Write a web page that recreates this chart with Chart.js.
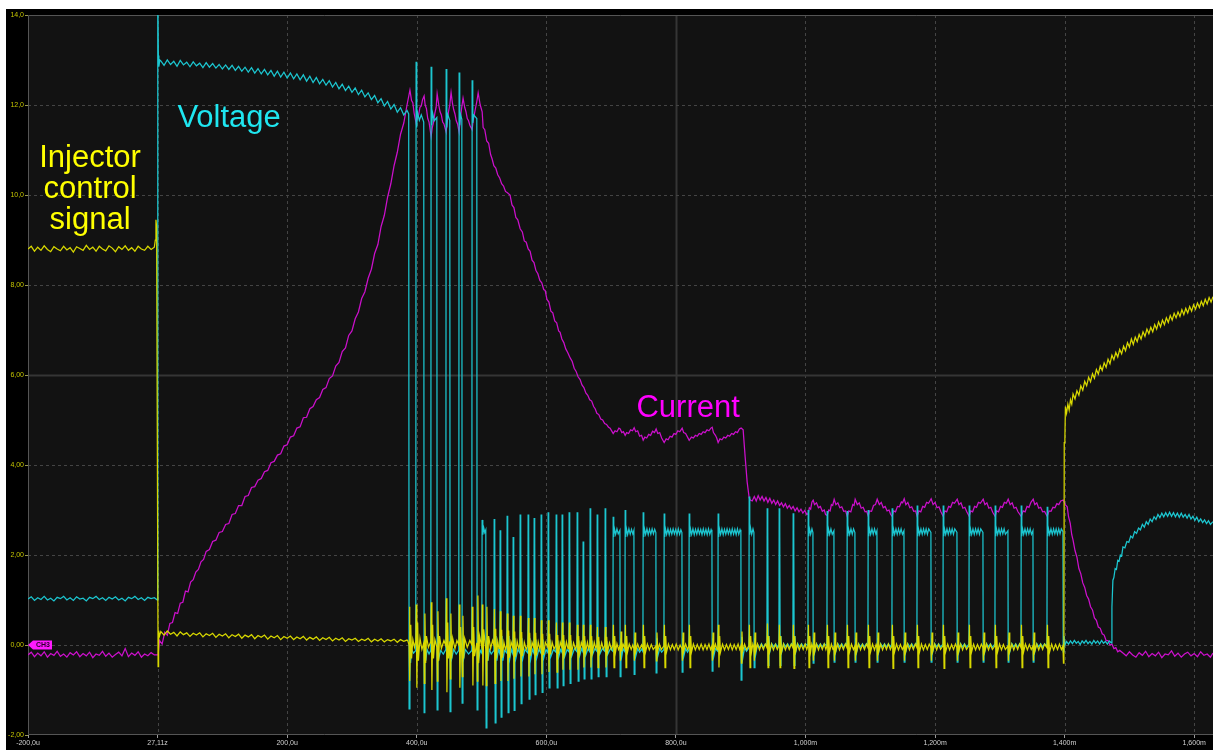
<!DOCTYPE html>
<html><head><meta charset="utf-8">
<script src="https://cdn.jsdelivr.net/npm/chart.js@4/dist/chart.umd.min.js"></script>
<style>
html,body{margin:0;padding:0;background:#fff;width:1213px;height:750px;overflow:hidden}
#wrap{position:absolute;left:6px;top:9px;width:1207px;height:741px;background:#000}
</style></head><body>
<div id="wrap"><canvas id="c" width="1207" height="741"></canvas></div>
<script>
// ---------- axis ticks ----------
const xTickValues = [-200,0,200,400,600,800,1000,1200,1400,1600];
const xTickLabels = ['-200,0u','27,11z','200,0u','400,0u','600,0u','800,0u','1,000m','1,200m','1,400m','1,600m'];
const yTickValues = [-2,0,2,4,6,8,10,12,14];
const yTickLabels = ['-2,00','0,00','2,00','4,00','6,00','8,00','10,0','12,0','14,0'];
const centerTime = 800, centerLevel = 6;

// ---------- annotations ----------
const noteTexts  = ['Voltage','Injector','control','signal','Current'];
const noteTimes  = [110.4,-104.2,-104.2,-104.2,818.9];
const noteValues = [11.51,10.62,9.93,9.24,5.07];
const noteColors = ['#1fe6f0','#ffff00','#ffff00','#ffff00','#ff00ff'];
const markerText = 'CH3';

// ---------- Injector control signal (yellow), [time us, volts] ----------
const injPre = [[-200,8.80],[-195,8.86],[-190,8.75],[-185,8.84],[-180,8.77],[-175,8.87],[-170,8.79],[-165,8.74],[-160,8.85],[-155,8.80],[-150,8.76],[-145,8.86],[-140,8.78],[-135,8.83],[-130,8.73],[-125,8.85],[-120,8.81],[-115,8.77],[-110,8.88],[-105,8.79],[-100,8.84],[-95,8.75],[-90,8.86],[-85,8.80],[-80,8.76],[-75,8.87],[-70,8.82],[-65,8.74],[-60,8.85],[-55,8.79],[-50,8.87],[-45,8.77],[-40,8.83],[-35,8.75],[-30,8.86],[-25,8.80],[-20,8.77],[-15,8.86],[-10,8.79],[-5,8.84]];
const injTrigger = [[-3.5,9.0],[-2.5,9.45],[-1.5,9.3],[0.2,2.0],[0.8,-0.48],[1.6,0.32],[3,0.2]];
const injSettle = [[5,0.30],[10,0.22],[15,0.31],[20,0.24],[25,0.28],[30,0.20],[35,0.29],[40,0.23],[45,0.27],[50,0.19],[55,0.26],[60,0.22],[65,0.27],[70,0.18],[75,0.25],[80,0.21],[85,0.26],[90,0.17],[95,0.24],[100,0.20],[105,0.25],[110,0.16],[115,0.23],[120,0.19],[125,0.24],[130,0.15],[135,0.22],[140,0.18],[145,0.23],[150,0.14],[155,0.21],[160,0.17],[165,0.22],[170,0.13],[175,0.20],[180,0.16],[185,0.21],[190,0.12],[195,0.19],[200,0.15],[205,0.20],[210,0.12],[215,0.18],[220,0.14],[225,0.19],[230,0.11],[235,0.17],[240,0.13],[245,0.18],[250,0.10],[255,0.16],[260,0.12],[265,0.17],[270,0.09],[275,0.15],[280,0.11],[285,0.16],[290,0.08],[295,0.14],[300,0.11],[305,0.15],[310,0.08],[315,0.13],[320,0.10],[325,0.15],[330,0.07],[335,0.13],[340,0.09],[345,0.14],[350,0.07],[355,0.12],[360,0.09],[365,0.13],[370,0.06],[375,0.12],[380,0.08],[385,0.11]];
const injPeak = [[386,0.1],[388.2,0.0],[388.7,0.85],[389.6,-0.8],[390.8,0.45],[392,-0.3],[394,0.12],[396.5,-0.05],[398.6,0.1],
[399.3,0.9],[400.2,-0.95],[401.4,0.5],[402.6,-0.35],[405,0.15],[408,-0.1],[411,0.05],
[411.7,-0.85],[412.6,0.7],[413.8,-0.4],[415,0.2],[418,-0.05],[421.8,0.08],
[422.5,0.95],[423.4,-1.0],[424.6,0.45],[425.8,-0.3],[428,0.12],[431.1,-0.05],
[431.8,-0.8],[432.7,0.75],[433.9,-0.35],[435.2,0.2],[438,-0.08],[442,0.1],[445,-0.02],
[445.7,1.04],[446.6,-1.05],[447.8,0.5],[449,-0.3],[451.1,0.08],
[451.8,-0.75],[452.7,0.7],[453.9,-0.3],[455.5,0.15],[459,-0.08],[462,0.1],[465,0.0],
[465.7,0.9],[466.6,-0.95],[467.8,0.4],[469.5,-0.2],
[470.4,-0.7],[471.3,0.65],[472.5,-0.3],[474,0.15],[478,-0.05],[482,0.1],[485.1,0.0],
[485.8,0.85],[486.7,-0.9],[487.9,0.4],[489.2,-0.25],[492.8,0.05],
[493.5,-0.8],[494.4,1.1],[495.6,-0.4],[497,0.2],[500.5,-0.05],
[501.2,0.9],[502.1,-0.9],[503.3,0.35],[506.7,-0.1],
[507.4,-0.9],[508.3,0.85],[509.5,-0.35],[511,0.2],[514,-0.08],[517,0.1]];
const injHoldEarly = [[519.1,0.0],[519.9,0.8],[520.8,-0.85],[521.9,0.36],[523.1,-0.3],[525,0.08],[527,-0.08],
[528.3,0.02],[529.1,0.75],[530,-0.8],[531.1,0.34],[532.3,-0.28],[534.5,0.06],[537,-0.1],
[539.1,0.0],[539.9,0.7],[540.8,-0.8],[541.9,0.32],[543.1,-0.28],[545.5,0.07],[548.4,-0.06],
[549.2,0.65],[550.1,-0.75],[551.2,0.3],[552.4,-0.26],[555,0.08],[557.5,-0.08],[559.2,0.02],
[560,0.65],[560.9,-0.7],[562,0.29],[563.2,-0.25],[566,0.06],[569,-0.1],[571.5,0.0],
[572.3,0.6],[573.2,-0.7],[574.3,0.27],[575.5,-0.24],[578,0.06],[580.8,-0.06],
[581.6,0.6],[582.5,-0.65],[583.6,0.27],[584.8,-0.23],[587.5,0.07],[590,-0.09],[591.6,0.0],
[592.4,0.55],[593.3,-0.65],[594.4,0.25],[595.6,-0.22],[598.5,0.06],[602.4,-0.05],
[603.2,0.55],[604.1,-0.6],[605.2,0.25],[606.4,-0.21],[609,0.06],[612,-0.09],[614.8,0.0],
[615.6,0.5],[616.5,-0.6],[617.6,0.22],[618.8,-0.2],[621.5,0.06],[624,-0.05],
[624.8,0.5],[625.7,-0.55],[626.8,0.22],[628,-0.19],[631,0.07],[633.5,-0.08],[634.8,0.0],
[635.6,0.5],[636.5,-0.55],[637.6,0.22],[638.8,-0.19],[642,0.05],[645,-0.09],[647.2,0.0],
[648,0.45],[648.9,-0.55],[650,0.2],[651.2,-0.18],[654,0.06],[656.4,-0.05],
[657.2,0.45],[658.1,-0.5],[659.2,0.2],[660.4,-0.17],[663.5,0.06],[665.5,-0.09],[667.2,0.0],
[668,0.45],[668.9,-0.5],[670,0.2],[671.2,-0.17],[674,0.06],[676.5,-0.08],[678.1,0.0],
[678.9,0.4],[679.8,-0.5],[680.9,0.18],[682.1,-0.16],[685.5,0.05],[688,-0.09],[690.4,0.0],
[691.2,0.4],[692.1,-0.5],[693.2,0.18],[694.4,-0.16],[697.5,0.05],[700.5,-0.09],[702.8,0.0]];
const injHoldMid = [[703.6,0.45],[704.5,-0.5],[705.6,0.2],[706.8,-0.16],[709,0.03],[711.5,-0.1],[713.6,-0.02],
[714.4,-0.35],[715.3,0.3],[716.4,-0.14],[718.5,0.02],[721.3,-0.08],
[722.1,0.45],[723,-0.5],[724.1,0.2],[725.3,-0.16],[728,0.02],[731,-0.1],[733.5,0.0],[735.2,-0.08],
[736,-0.35],[736.9,0.28],[738,-0.14],[741,0.02],[744,-0.1],[747,0.0],[749.1,-0.08],
[749.9,0.45],[750.8,-0.5],[751.9,0.2],[753.1,-0.16],[756,0.02],[759,-0.11],[762,0.01],[765,-0.1],[769.1,-0.02],
[769.9,-0.35],[770.8,0.28],[771.9,-0.14],[774.5,0.02],[777.5,-0.1],[781.5,-0.02],
[782.3,0.45],[783.2,-0.5],[784.3,0.2],[785.5,-0.16],[788.5,0.02],[791.5,-0.11],[794.5,0.01],[797.5,-0.1],[800.5,0.02],[803.5,-0.11],[806.5,0.0],[809.3,-0.08],
[810.1,-0.35],[811,0.28],[812.1,-0.14],[815,0.02],[818,-0.1],[820.1,-0.02],
[820.9,0.45],[821.8,-0.5],[822.9,0.2],[824.1,-0.16],[827,0.02],[830,-0.11],[833,0.01],[836,-0.1],[839,0.02],[842,-0.11],[845,0.01],[848,-0.1],[851,0.02],[853.5,-0.1],[855.6,-0.02],
[856.4,-0.35],[857.3,0.28],[858.4,-0.14],[861,0.02],[863.5,-0.1],[864.8,-0.02],
[865.6,0.45],[866.5,-0.5],[867.6,0.2],[868.8,-0.16],[872,0.02],[875,-0.11],[878,0.01],[881,-0.1],[884,0.02],[887,-0.11],[890,0.01],[893,-0.1],[896,0.02],[898.5,-0.1],[900.3,-0.02],
[901.1,-0.4],[902,0.3],[903.1,-0.14],[906,0.02],[909,-0.1],[912.7,-0.02],
[913.5,0.45],[914.4,-0.5],[915.5,0.2],[916.7,-0.16],[918.8,0.02],[920.4,-0.06],
[921.2,-0.35],[922.1,0.28],[923.2,-0.14],[926,0.02],[929,-0.11],[932,0.01],[935,-0.1],[938,0.02],[940.5,-0.06]];
const injHoldLate = [[941.3,0.48],[942.2,-0.5],[943.3,0.2],[944.5,-0.16],[947.5,0.02],[950.5,-0.11],[953.5,0.01],[956.5,-0.1],[959,-0.02],
[959.8,0.45],[960.7,-0.5],[961.8,0.2],[963,-0.16],[966,0.02],[969,-0.11],[972,0.01],[975,-0.1],[978,0.02],[980.6,-0.06],
[981.4,0.45],[982.3,-0.52],[983.4,0.2],[984.6,-0.16],[987.5,0.02],[990.5,-0.11],[993.5,0.01],[996.5,-0.1],[999.5,0.02],[1002,-0.1],[1003.8,-0.02],
[1004.6,0.45],[1005.5,-0.5],[1006.6,0.2],[1007.8,-0.16],[1009.8,0.02],[1011.5,-0.06],
[1012.3,-0.35],[1013.2,0.28],[1014.3,-0.14],[1017,0.02],[1020,-0.11],[1023,0.01],[1026,-0.1],[1029,0.02],[1031.5,-0.1],[1033.1,-0.02],
[1033.9,0.45],[1034.8,-0.5],[1035.9,0.2],[1037.1,-0.16],[1040,0.02],[1042.5,-0.1],[1043.9,-0.02],
[1044.7,-0.35],[1045.6,0.28],[1046.7,-0.14],[1049.5,0.02],[1052.5,-0.11],[1055.5,0.01],[1058.5,-0.1],[1061.5,0.02],[1064,-0.06],
[1064.8,0.45],[1065.7,-0.5],[1066.8,0.2],[1068,-0.16],[1071,0.02],[1074,-0.1],[1076.3,-0.02],
[1077.1,-0.35],[1078,0.28],[1079.1,-0.14],[1082,0.02],[1085,-0.11],[1088,0.01],[1091,-0.1],[1094,0.02],[1096.4,-0.06],
[1097.2,0.45],[1098.1,-0.5],[1099.2,0.2],[1100.4,-0.16],[1103.5,0.02],[1106.5,-0.11],[1109,0.01],[1110.3,-0.06],
[1111.1,-0.35],[1112,0.28],[1113.1,-0.14],[1116,0.02],[1119,-0.11],[1122,0.01],[1125,-0.1],[1128,0.02],[1131,-0.1],[1133.4,-0.02],
[1134.2,0.45],[1135.1,-0.52],[1136.2,0.2],[1137.4,-0.16],[1140.5,0.02],[1143.5,-0.11],[1146.5,0.01],[1149.5,-0.1],[1152,-0.02],
[1152.8,-0.35],[1153.7,0.28],[1154.8,-0.14],[1157.5,0.02],[1160.5,-0.11],[1163.5,0.01],[1166.5,-0.1],[1169.5,0.02],[1172,-0.06],
[1172.8,0.45],[1173.7,-0.5],[1174.8,0.2],[1176,-0.16],[1179,0.02],[1182,-0.11],[1185,0.01],[1188,-0.1],[1191,0.02],[1193.6,-0.06],
[1194.4,-0.35],[1195.3,0.28],[1196.4,-0.14],[1199.5,0.02],[1202.5,-0.11],[1205.5,0.01],[1208.5,-0.1],[1212.2,-0.02],
[1213,0.45],[1213.9,-0.52],[1215,0.2],[1216.2,-0.16],[1219.5,0.02],[1222.5,-0.11],[1225.5,0.01],[1228.5,-0.1],[1231.5,0.02],[1233.8,-0.06],
[1234.6,-0.35],[1235.5,0.28],[1236.6,-0.14],[1239.5,0.02],[1242.5,-0.11],[1245.5,0.01],[1248.5,-0.1],[1252.3,-0.02],
[1253.1,0.45],[1254,-0.5],[1255.1,0.2],[1256.3,-0.16],[1259.5,0.02],[1262.5,-0.11],[1265.5,0.01],[1268.5,-0.1],[1271.5,0.02],[1273.9,-0.06],
[1274.7,-0.35],[1275.6,0.28],[1276.7,-0.14],[1279.5,0.02],[1282.5,-0.11],[1285.5,0.01],[1288.5,-0.1],[1292.4,-0.02],
[1293.2,0.45],[1294.1,-0.5],[1295.2,0.2],[1296.4,-0.16],[1299.5,0.02],[1302.5,-0.11],[1305.5,0.01],[1308.5,-0.1],[1312.5,-0.02],
[1313.3,-0.35],[1314.2,0.28],[1315.3,-0.14],[1318.5,0.02],[1321.5,-0.11],[1324.5,0.01],[1327.5,-0.1],[1330.5,0.02],[1332.6,-0.06],
[1333.4,0.45],[1334.3,-0.5],[1335.4,0.2],[1336.6,-0.16],[1339.5,0.02],[1342.5,-0.11],[1345.5,0.01],[1348.5,-0.1],[1351.1,-0.02],
[1351.9,-0.35],[1352.8,0.28],[1353.9,-0.14],[1357,0.02],[1360,-0.11],[1363,0.01],[1366,-0.1],[1369,0.02],[1372.7,-0.06],
[1373.5,0.45],[1374.4,-0.5],[1375.5,0.2],[1376.7,-0.16],[1380,0.02],[1383,-0.11],[1386,0.01],[1389,-0.1],[1392,0.02],[1395,-0.1],[1397.4,-0.02]];
const injRelease = [[1398.2,-0.4],[1398.9,0.1],[1399.4,4.5],[1400.4,4.6],[1401.2,5.3],[1403,5.15],[1405,5.35],[1407,5.22],[1409,5.45],[1411,5.35],[1413,5.58],[1416,5.47],[1419,5.65],[1422,5.55],[1425,5.76],[1428,5.66],[1431,5.86],[1434,5.76],[1437,5.95],[1440,5.85],[1443,6.03],[1446,5.93],[1449,6.12],[1452,6.02],[1455,6.2],[1458,6.1],[1461,6.27],[1464,6.17],[1467,6.35],[1470,6.25],[1473,6.44],[1476,6.34],[1479,6.5],[1482,6.4],[1485,6.57],[1488,6.47],[1491,6.64],[1494,6.54],[1497,6.72],[1500,6.62],[1503,6.8],[1506,6.68],[1509,6.84],[1512,6.74],[1515,6.9],[1518,6.8],[1521,6.96],[1524,6.86],[1527,7.02],[1530,6.92],[1533,7.06],[1536,6.96],[1539,7.12],[1542,7.02],[1545,7.18],[1548,7.07],[1551,7.22],[1554,7.12],[1557,7.27],[1560,7.17],[1563,7.32],[1566,7.22],[1569,7.37],[1572,7.27],[1575,7.4],[1578,7.3],[1581,7.45],[1584,7.34],[1587,7.48],[1590,7.38],[1593,7.52],[1596,7.42],[1599,7.56],[1602,7.46],[1605,7.6],[1608,7.5],[1611,7.64],[1614,7.54],[1617,7.68],[1620,7.58],[1623,7.72],[1626,7.62],[1629,7.74]];

// ---------- Voltage (cyan) ----------
const voltPre = [[-200,1.02],[-195,1.07],[-190,0.99],[-185,1.05],[-180,1.01],[-175,1.08],[-170,1.00],[-165,1.04],[-160,0.98],[-155,1.06],[-150,1.03],[-145,1.08],[-140,1.00],[-135,1.05],[-130,0.99],[-125,1.07],[-120,1.02],[-115,1.04],[-110,0.98],[-105,1.06],[-100,1.03],[-95,1.08],[-90,1.01],[-85,1.05],[-80,0.99],[-75,1.06],[-70,1.02],[-65,1.07],[-60,1.00],[-55,1.04],[-50,0.98],[-45,1.06],[-40,1.03],[-35,1.08],[-30,1.01],[-25,1.05],[-20,0.99],[-15,1.06],[-10,1.03],[-5,1.05]];
const voltTrigger = [[-0.2,1.0],[0.3,14.6],[1.2,13.1],[2,12.85],[3.5,13.0]];
const voltHold = [[5,12.98],[10,12.88],[15,13.00],[20,12.90],[25,12.97],[30,12.86],[35,12.99],[40,12.89],[45,12.95],[50,12.85],[55,12.96],[60,12.87],[65,12.93],[70,12.83],[75,12.94],[80,12.84],[85,12.92],[90,12.82],[95,12.90],[100,12.80],[105,12.89],[110,12.79],[115,12.88],[120,12.77],[125,12.86],[130,12.75],[135,12.84],[140,12.73],[145,12.83],[150,12.71],[155,12.81],[160,12.69],[165,12.79],[170,12.67],[175,12.77],[180,12.64],[185,12.75],[190,12.62],[195,12.73],[200,12.60],[205,12.71],[210,12.58],[215,12.69],[220,12.56],[225,12.67],[230,12.53],[235,12.64],[240,12.50],[245,12.61],[250,12.47],[255,12.57],[260,12.44],[265,12.54],[270,12.40],[275,12.50],[280,12.36],[285,12.46],[290,12.32],[295,12.42],[300,12.28],[305,12.38],[310,12.23],[315,12.33],[320,12.18],[325,12.27],[330,12.12],[335,12.21],[340,12.05],[345,12.14],[350,11.98],[355,12.08],[360,11.91],[365,12.01],[370,11.84],[375,11.94],[380,11.78],[385,11.88]];
const voltPeak = [[387.6,11.8],[388.2,-1.42],[389.5,0.3],[390.5,-0.4],[392,-0.1],[395,-0.18],[398.5,-0.12],
[399.0,12.96],[400,11.5],[401,11.85],[404,11.66],[407,11.78],[410.8,11.62],
[411.4,-1.5],[412.5,0.2],[414,-0.35],[416,-0.1],[419,-0.2],[421.7,-0.12],
[422.2,12.85],[423.2,11.55],[424.5,11.82],[427,11.65],[431,11.72],
[431.5,-1.44],[432.7,0.25],[434,-0.3],[437,-0.12],[441,-0.2],[444.9,-0.1],
[445.4,12.8],[446.4,11.5],[447.5,11.8],[451,11.66],
[451.5,-1.48],[452.7,0.2],[454,-0.3],[457,-0.1],[461,-0.2],[464.9,-0.12],
[465.4,12.72],[466.4,11.55],[467.5,11.8],[469.6,11.68],
[470.1,-1.29],[471.3,0.15],[472.5,-0.3],[475,-0.1],[480,-0.2],[485,-0.12],
[485.5,12.55],[486.5,11.6],[488,11.78],[492.7,11.7],
[493.2,-1.44],[494.4,0.1],[496,-0.3],[498,-0.12],[500.4,-0.18],
[500.9,2.78],[502,2.45],[503.5,2.6],[505,2.5],[506.6,2.56],
[507.1,-1.84],[508.3,0.1],[510,-0.35],[512,-0.1],[515,-0.2],[519,-0.12]];
const voltHoldEarly = [[519.1,-0.15],[519.5,2.80],[520.4,2.4],[521.1,-1.73],[522.3,0.2],[523.7,-0.35],[526,-0.1],[528.3,-0.2],
[528.7,2.55],[529.6,2.2],[530.3,-1.6],[531.5,0.2],[532.9,-0.35],[535.5,-0.12],[539.1,-0.18],
[539.5,2.87],[540.4,2.45],[541.1,-1.5],[542.3,0.2],[543.7,-0.3],[546,-0.1],[548.4,-0.2],
[548.8,2.4],[549.7,2.1],[550.4,-1.45],[551.6,0.15],[553,-0.3],[556,-0.1],[559.2,-0.18],
[559.6,2.9],[560.5,2.5],[561.2,-1.3],[562.4,0.15],[563.8,-0.3],[567,-0.1],[571.5,-0.18],
[571.9,2.9],[572.8,2.5],[573.5,-1.2],[574.7,0.15],[576.1,-0.3],[578.5,-0.1],[580.8,-0.18],
[581.2,2.82],[582.1,2.4],[582.8,-1.1],[584,0.12],[585.4,-0.28],[588.5,-0.1],[591.6,-0.18],
[592,2.9],[592.9,2.45],[593.6,-1.05],[594.8,0.12],[596.2,-0.28],[599.5,-0.1],[602.4,-0.17],
[602.8,2.95],[603.7,2.5],[604.4,-0.95],[605.6,0.12],[607,-0.26],[611,-0.1],[614.8,-0.16],
[615.2,2.9],[616.1,2.45],[616.8,-0.95],[618,0.1],[619.4,-0.25],[622,-0.1],[624,-0.16],
[624.4,2.9],[625.3,2.45],[626,-0.9],[627.2,0.1],[628.6,-0.25],[632,-0.1],[634.8,-0.15],
[635.2,2.95],[636.1,2.5],[636.8,-0.85],[638,0.1],[639.4,-0.24],[643.5,-0.08],[647.2,-0.15],
[647.6,2.95],[648.5,2.5],[649.2,-0.8],[650.4,0.1],[651.8,-0.22],[654.5,-0.08],[656.4,-0.15],
[656.8,2.3],[657.7,1.9],[658.4,-0.75],[659.6,0.1],[661,-0.22],[664.5,-0.08],[667.2,-0.15],
[667.6,3.04],[668.5,2.55],[669.2,-0.75],[670.4,0.1],[671.8,-0.2],[675,-0.08],[678.1,-0.14],
[678.5,2.9],[679.4,2.45],[680.1,-0.7],[681.3,0.08],[682.7,-0.2],[686.5,-0.08],[690.4,-0.14],
[690.8,3.04],[691.7,2.55],[692.4,-0.7],[693.6,0.08],[695,-0.2],[699,-0.08],[702.8,-0.14]];
const voltHoldMid = [[703.2,2.85],[704.1,2.4],[705,2.6],[707,2.46],[709,2.58],[711,2.47],[713.6,2.55],[714,-0.7],[715.2,0.15],[716.5,-0.25],[718.5,-0.08],[721.3,-0.15],
[721.7,3.0],[722.6,2.4],[723.5,2.6],[725.5,2.45],[727.5,2.58],[729.5,2.46],[731.5,2.57],[733.5,2.47],[735.2,2.55],[735.6,-0.65],[736.8,0.15],[738.1,-0.25],[741,-0.08],[744,-0.16],[747,-0.09],[749.1,-0.15],
[749.5,2.95],[750.4,2.4],[751.3,2.6],[753.3,2.46],[755.3,2.58],[757.3,2.45],[759.3,2.57],[761.3,2.46],[763.3,2.58],[765.3,2.47],[767.3,2.57],[769.1,2.5],[769.5,-0.62],[770.7,0.15],[772,-0.25],[775,-0.08],[778,-0.16],[781.5,-0.1],
[781.9,2.92],[782.8,2.4],[783.7,2.6],[785.7,2.46],[787.7,2.58],[789.7,2.45],[791.7,2.57],[793.7,2.46],[795.7,2.58],[797.7,2.47],[799.7,2.57],[801.7,2.45],[803.7,2.58],[805.7,2.46],[807.7,2.56],[809.3,2.5],[809.7,-0.6],[810.9,0.15],[812.2,-0.25],[815,-0.08],[818,-0.16],[820.1,-0.1],
[820.5,2.92],[821.4,2.4],[822.3,2.6],[824.3,2.46],[826.3,2.58],[828.3,2.45],[830.3,2.57],[832.3,2.46],[834.3,2.58],[836.3,2.47],[838.3,2.57],[840.3,2.45],[842.3,2.58],[844.3,2.46],[846.3,2.57],[848.3,2.45],[850.3,2.58],[852.3,2.46],[854.3,2.56],[855.6,2.5],[856,-0.58],[857.2,0.15],[858.5,-0.25],[861,-0.08],[864.8,-0.14],
[865.2,2.92],[866.1,2.4],[867,2.6],[869,2.46],[871,2.58],[873,2.45],[875,2.57],[877,2.46],[879,2.58],[881,2.47],[883,2.57],[885,2.45],[887,2.58],[889,2.46],[891,2.57],[893,2.45],[895,2.58],[897,2.46],[899,2.56],[900.3,2.5],[900.7,-0.78],[901.9,0.18],[903.2,-0.3],[906,-0.06],[909,-0.14],[912.7,-0.06],
[913.1,3.3],[914,2.45],[915,2.62],[917,2.46],[919,2.58],[920.4,2.5],[920.8,-0.5],[922,0.15],[923.3,-0.2],[926,0.02],[929,-0.06],[932,0.03],[935,-0.05],[938,0.02],[940.5,-0.03]];
const voltHoldLate = [[940.9,3.04],[941.8,2.6],[942.5,-0.45],[943.7,0.2],[945,-0.15],[948,0.03],[951,-0.04],[954,0.03],[957,-0.05],[959,0.02],
[959.4,3.04],[960.3,2.6],[961,-0.45],[962.2,0.2],[963.5,-0.15],[966.5,0.03],[969.5,-0.04],[972.5,0.03],[975.5,-0.05],[978.5,0.03],[980.6,-0.02],
[981,2.93],[981.9,2.5],[982.6,-0.45],[983.8,0.2],[985.1,-0.15],[988,0.03],[991,-0.04],[994,0.03],[997,-0.05],[1000,0.03],[1003.8,-0.02],
[1004.2,3.0],[1005.1,2.42],[1006,2.6],[1008,2.46],[1010,2.58],[1011.5,2.5],[1011.9,-0.4],[1013.1,0.15],[1014.4,-0.15],[1017,0.03],[1020,-0.04],[1023,0.03],[1026,-0.05],[1029,0.03],[1033.1,-0.02],
[1033.5,2.98],[1034.4,2.42],[1035.3,2.6],[1037.3,2.46],[1039.3,2.58],[1041.3,2.46],[1043.9,2.54],[1044.3,-0.38],[1045.5,0.15],[1046.8,-0.15],[1050,0.03],[1053,-0.04],[1056,0.03],[1059,-0.05],[1062,0.03],[1064,-0.02],
[1064.4,2.98],[1065.3,2.42],[1066.2,2.6],[1068.2,2.46],[1070.2,2.58],[1072.2,2.46],[1074.2,2.58],[1076.3,2.5],[1076.7,-0.38],[1077.9,0.15],[1079.2,-0.15],[1082,0.03],[1085,-0.04],[1088,0.03],[1091,-0.05],[1094,0.03],[1096.4,-0.02],
[1096.8,3.0],[1097.7,2.42],[1098.6,2.6],[1100.6,2.46],[1102.6,2.58],[1104.6,2.46],[1106.6,2.58],[1108.6,2.47],[1110.3,2.54],[1110.7,-0.38],[1111.9,0.15],[1113.2,-0.15],[1116,0.03],[1119,-0.04],[1122,0.03],[1125,-0.05],[1128,0.03],[1131,-0.04],[1133.4,0.02],
[1133.8,3.04],[1134.7,2.42],[1135.6,2.6],[1137.6,2.46],[1139.6,2.58],[1141.6,2.46],[1143.6,2.58],[1145.6,2.47],[1147.6,2.58],[1149.6,2.46],[1152,2.54],[1152.4,-0.38],[1153.6,0.15],[1154.9,-0.15],[1158,0.03],[1161,-0.04],[1164,0.03],[1167,-0.05],[1170,0.03],[1172,-0.02],
[1172.4,3.1],[1173.3,2.42],[1174.2,2.6],[1176.2,2.46],[1178.2,2.58],[1180.2,2.46],[1182.2,2.58],[1184.2,2.47],[1186.2,2.58],[1188.2,2.46],[1190.2,2.58],[1193.6,2.5],[1194,-0.38],[1195.2,0.15],[1196.5,-0.15],[1199.5,0.03],[1202.5,-0.04],[1205.5,0.03],[1208.5,-0.05],[1212.2,0.02],
[1212.6,3.1],[1213.5,2.42],[1214.4,2.6],[1216.4,2.46],[1218.4,2.58],[1220.4,2.46],[1222.4,2.58],[1224.4,2.47],[1226.4,2.58],[1228.4,2.46],[1230.4,2.58],[1233.8,2.5],[1234.2,-0.38],[1235.4,0.15],[1236.7,-0.15],[1239.5,0.03],[1242.5,-0.04],[1245.5,0.03],[1248.5,-0.05],[1252.3,0.02],
[1252.7,3.1],[1253.6,2.42],[1254.5,2.6],[1256.5,2.46],[1258.5,2.58],[1260.5,2.46],[1262.5,2.58],[1264.5,2.47],[1266.5,2.58],[1268.5,2.46],[1270.5,2.58],[1273.9,2.5],[1274.3,-0.38],[1275.5,0.15],[1276.8,-0.15],[1279.5,0.03],[1282.5,-0.04],[1285.5,0.03],[1288.5,-0.05],[1292.4,0.02],
[1292.8,3.1],[1293.7,2.42],[1294.6,2.6],[1296.6,2.46],[1298.6,2.58],[1300.6,2.46],[1302.6,2.58],[1304.6,2.47],[1306.6,2.58],[1308.6,2.46],[1312.5,2.54],[1312.9,-0.38],[1314.1,0.15],[1315.4,-0.15],[1318.5,0.03],[1321.5,-0.04],[1324.5,0.03],[1327.5,-0.05],[1330.5,0.03],[1332.6,-0.02],
[1333,3.1],[1333.9,2.42],[1334.8,2.6],[1336.8,2.46],[1338.8,2.58],[1340.8,2.46],[1342.8,2.58],[1344.8,2.47],[1346.8,2.58],[1348.8,2.46],[1351.1,2.54],[1351.5,-0.38],[1352.7,0.15],[1354,-0.15],[1357,0.03],[1360,-0.04],[1363,0.03],[1366,-0.05],[1369,0.03],[1372.7,-0.02],
[1373.1,3.07],[1374,2.42],[1374.9,2.6],[1376.9,2.46],[1378.9,2.58],[1380.9,2.46],[1382.9,2.58],[1384.9,2.47],[1386.9,2.58],[1388.9,2.46],[1390.9,2.58],[1392.9,2.47],[1394.9,2.58],[1397.4,2.52]];
const voltRelease = [[1397.8,-0.15],[1399,0.2],[1400.5,0.0],[1403,0.08],[1406,0.02],[1409,0.09],[1412,0.03],[1415,0.1],[1418,0.04],[1421,0.08],[1424,0.01],[1427,0.09],[1430,0.04],[1433,0.1],[1436,0.03],[1439,0.08],[1442,0.02],[1445,0.1],[1448,0.04],[1451,0.09],[1454,0.02],[1457,0.1],[1460,0.04],[1463,0.08],[1466,0.02],[1469,0.09],[1472,0.05],[1473,0.84],[1474.5,1.44],[1476,1.5],[1478,1.7],[1480,1.68],[1482,1.88],[1484,1.86],[1486,2.0],[1488,1.98],[1490,2.18],[1493,2.16],[1496,2.3],[1499,2.28],[1502,2.42],[1505,2.38],[1508,2.52],[1511,2.48],[1514,2.6],[1517,2.56],[1520,2.68],[1523,2.62],[1526,2.74],[1529,2.68],[1532,2.8],[1535,2.74],[1538,2.85],[1541,2.79],[1544,2.9],[1547,2.83],[1550,2.93],[1553,2.85],[1556,2.94],[1559,2.86],[1562,2.95],[1565,2.86],[1568,2.94],[1571,2.85],[1574,2.93],[1577,2.84],[1580,2.93],[1583,2.84],[1586,2.9],[1589,2.82],[1592,2.9],[1595,2.8],[1598,2.86],[1601,2.77],[1604,2.84],[1607,2.74],[1610,2.8],[1613,2.72],[1616,2.78],[1619,2.7],[1622,2.76],[1625,2.68],[1629,2.74]];

// ---------- Current (magenta) ----------
const currPre = [[-200,-0.22],[-195,-0.16],[-190,-0.26],[-185,-0.18],[-180,-0.24],[-175,-0.15],[-170,-0.27],[-165,-0.19],[-160,-0.23],[-155,-0.14],[-150,-0.25],[-145,-0.20],[-140,-0.27],[-135,-0.17],[-130,-0.22],[-125,-0.15],[-120,-0.26],[-115,-0.19],[-110,-0.24],[-105,-0.16],[-100,-0.28],[-95,-0.20],[-90,-0.23],[-85,-0.14],[-80,-0.25],[-75,-0.18],[-70,-0.27],[-65,-0.21],[-60,-0.16],[-55,-0.24],[-50,-0.08],[-45,-0.26],[-40,-0.18],[-35,-0.23],[-30,-0.15],[-25,-0.27],[-20,-0.20],[-15,-0.24],[-10,-0.17],[-5,-0.22]];
const currRamp = [[0.8,-0.22],[3,0.1],[7,0.02],[11,0.28],[15,0.22],[19,0.48],[23,0.5],[27,0.72],[31,0.7],[35,0.93],[39,0.95],[43,1.2],[47,1.18],[51,1.4],[55,1.45],[59,1.62],[63,1.68],[67,1.85],[71,1.9],[75,2.08],[80,2.12],[85,2.3],[90,2.33],[95,2.5],[100,2.52],[105,2.68],[110,2.7],[115,2.9],[120,2.92],[125,3.1],[130,3.1],[135,3.3],[140,3.32],[145,3.5],[150,3.52],[155,3.66],[160,3.7],[165,3.85],[170,3.88],[175,4.05],[180,4.08],[185,4.22],[190,4.25],[195,4.42],[200,4.45],[205,4.62],[210,4.65],[215,4.82],[220,4.85],[225,5.05],[230,5.06],[235,5.25],[240,5.3],[245,5.45],[250,5.5],[255,5.68],[260,5.72],[265,5.92],[270,5.98],[275,6.2],[280,6.28],[285,6.52],[290,6.6],[295,6.88],[300,6.98],[305,7.25],[310,7.4],[315,7.7],[320,7.85],[325,8.15],[330,8.35],[335,8.7],[340,8.9],[345,9.3],[350,9.55],[355,9.95],[360,10.25],[365,10.65],[370,10.95],[375,11.35],[380,11.6],[385,12.0],[389.5,12.33]];
const currPeak = [[392,12.1],[394,12.05],[396,11.82],[399,11.6],[401,11.72],[403,11.78],[405,11.95],[407,11.98],[409,12.12],[411.4,12.2],[413,12.0],[415,11.92],[417,11.7],[419,11.62],[422.2,11.3],[424,11.5],[426,11.62],[428,11.82],[430,11.95],[431.5,12.25],[434,12.0],[436,11.85],[438,11.78],[440,11.62],[442,11.58],[445.4,11.4],[447,11.62],[449,11.85],[451,12.0],[453,12.28],[455,12.05],[457,11.9],[459,11.8],[461,11.65],[463,11.58],[465.4,11.4],[467,11.65],[469,11.9],[471.5,12.15],[474,11.95],[476,11.85],[478,11.7],[480,11.65],[482,11.55],[485.5,11.45],[487,11.65],[489,11.8],[491,11.95],[493,12.1],[494.8,12.27]];
const currDecay = [[498,12.0],[501,11.85],[502.5,11.5],[505,11.45],[508,11.2],[511,11.15],[514,10.9],[516.4,10.8],[519,10.65],[522,10.6],[525,10.45],[528,10.38],[531,10.25],[534,10.2],[537,10.08],[540,10.05],[544,10.0],[547,9.78],[550,9.72],[553,9.5],[556,9.45],[559.6,9.25],[563,9.18],[566,8.98],[569,8.95],[572,8.8],[575,8.75],[578,8.55],[581,8.5],[584,8.32],[587,8.25],[590,8.1],[593,8.05],[596,7.9],[598.2,7.88],[601,7.68],[604,7.62],[607,7.42],[610,7.38],[613,7.2],[616,7.16],[619,6.98],[621.3,6.95],[624,6.8],[627,6.72],[630,6.58],[633,6.5],[636.8,6.38],[640,6.3],[643,6.15],[646,6.08],[649,5.96],[652.2,5.9],[655,5.78],[658,5.72],[661,5.6],[664,5.55],[667,5.45],[670,5.42],[673,5.3],[675.4,5.25],[678,5.15],[681,5.12],[684,5.02],[687,5.0],[690,4.92],[693,4.9],[696,4.84],[698.5,4.82]];
const currHold = [[700,4.78],[703.2,4.7],[706,4.76],[709,4.74],[712,4.82],[714,4.8],[716.5,4.72],[719,4.74],[721.7,4.66],[724,4.72],[727,4.7],[730,4.78],[733,4.76],[735.6,4.83],[738,4.74],[741,4.76],[744,4.64],[747,4.66],[749.5,4.55],[752,4.62],[755,4.6],[758,4.68],[761,4.66],[764,4.75],[767,4.72],[769.5,4.8],[772,4.7],[775,4.72],[778,4.6],[781.9,4.5],[785,4.58],[788,4.56],[791,4.64],[794,4.62],[797,4.7],[800,4.68],[803,4.76],[806,4.74],[809.7,4.82],[812,4.72],[815,4.7],[818,4.62],[820.5,4.55],[824,4.62],[827,4.6],[830,4.66],[833,4.64],[836,4.7],[839,4.68],[842,4.74],[845,4.72],[848,4.78],[851,4.76],[854,4.82],[856,4.84],[858,4.72],[861,4.66],[863,4.6],[865.2,4.5],[868,4.58],[871,4.56],[874,4.62],[877,4.6],[880,4.66],[883,4.64],[886,4.7],[889,4.68],[892,4.74],[895,4.72],[898,4.8],[900.7,4.82],[903.8,4.78],[906.9,4.18],[910,3.62],[913.1,3.27],[915,3.22]];
const currLow = [[917.8,3.2],[921,3.3],[924,3.2],[927,3.32],[930,3.22],[933,3.3],[936,3.2],[939,3.28],[942,3.17],[945,3.26],[948,3.15],[951,3.22],[954,3.12],[957,3.2],[960,3.1],[963,3.16],[966,3.07],[969,3.14],[972,3.04],[975,3.1],[978,3.02],[981,3.08],[984,2.98],[987,3.05],[990,2.96],[993,3.02],[996,2.93],[999,2.99],[1002,2.9],[1004.2,2.92],
[1006,3.05],[1008,3.02],[1010,3.18],[1011.9,3.22],[1014,3.12],[1017,3.16],[1020,3.05],[1023,3.08],[1026,2.97],[1029,3.0],[1031,2.9],[1033.5,2.88],
[1036,3.0],[1038,2.98],[1040,3.12],[1042,3.1],[1044.3,3.24],[1047,3.12],[1050,3.16],[1053,3.05],[1056,3.07],[1059,2.97],[1062,2.98],[1064.4,2.86],
[1067,2.98],[1070,2.96],[1073,3.12],[1075,3.1],[1076.7,3.24],[1080,3.12],[1083,3.16],[1086,3.04],[1089,3.06],[1092,2.96],[1094.5,2.97],[1096.8,2.87],
[1099,2.98],[1102,2.97],[1105,3.1],[1108,3.12],[1110.7,3.24],[1114,3.12],[1117,3.17],[1120,3.05],[1123,3.08],[1126,2.98],[1129,3.0],[1131.5,2.9],[1133.8,2.86],
[1136,2.98],[1139,2.96],[1142,3.08],[1145,3.07],[1148,3.18],[1150,3.16],[1152.4,3.25],[1155,3.12],[1158,3.17],[1161,3.05],[1164,3.07],[1167,2.97],[1170,2.98],[1172.4,2.86],
[1175,2.98],[1178,2.96],[1181,3.08],[1184,3.06],[1187,3.17],[1190,3.15],[1194,3.25],[1197,3.12],[1200,3.17],[1203,3.05],[1206,3.07],[1209,2.96],[1212.6,2.86],
[1215,2.98],[1218,2.96],[1221,3.08],[1224,3.06],[1227,3.17],[1230,3.15],[1234.2,3.24],[1237,3.12],[1240,3.16],[1243,3.04],[1246,3.06],[1249,2.96],[1252.7,2.86],
[1255,2.98],[1258,2.96],[1261,3.08],[1264,3.06],[1267,3.17],[1270,3.15],[1274.3,3.24],[1277,3.12],[1280,3.16],[1283,3.04],[1286,3.06],[1289,2.95],[1292.8,2.86],
[1295,2.98],[1298,2.96],[1301,3.08],[1304,3.06],[1307,3.17],[1310,3.15],[1312.9,3.24],[1316,3.12],[1319,3.16],[1322,3.04],[1325,3.06],[1328,2.96],[1333,2.86],
[1336,2.98],[1339,2.96],[1342,3.08],[1345,3.06],[1348,3.17],[1351.5,3.24],[1354,3.12],[1357,3.16],[1360,3.04],[1363,3.06],[1366,2.96],[1369,2.97],[1373.1,2.86],
[1376,2.98],[1379,2.97],[1382,3.06],[1385,3.05],[1388,3.14],[1391,3.12],[1394,3.2],[1397.8,3.22]];
const currRelease = [[1401,3.12],[1404,3.07],[1406,2.85],[1408.6,2.71],[1411,2.45],[1413,2.33],[1416,2.1],[1419,1.95],[1422,1.7],[1425,1.58],[1428,1.38],[1431,1.28],[1434,1.1],[1437,1.02],[1440,0.85],[1443,0.78],[1446,0.6],[1449,0.55],[1452,0.4],[1455,0.37],[1458,0.25],[1461,0.22],[1464,0.1],[1467,0.1],[1470,0.0],[1473,0.02],[1476,-0.08],[1479,-0.06],[1482,-0.15],[1485,-0.12],[1490,-0.18],[1495,-0.24],[1500,-0.15],[1505,-0.22],[1510,-0.27],[1515,-0.17],[1520,-0.23],[1525,-0.14],[1530,-0.26],[1535,-0.19],[1540,-0.24],[1545,-0.16],[1550,-0.28],[1555,-0.20],[1560,-0.22],[1565,-0.13],[1570,-0.25],[1575,-0.18],[1580,-0.27],[1585,-0.20],[1590,-0.16],[1595,-0.24],[1600,-0.19],[1605,-0.26],[1610,-0.15],[1615,-0.23],[1620,-0.20],[1625,-0.27],[1629,-0.18]];

// ---------- chart ----------
const FONT = '"Liberation Sans", Arial, sans-serif';
const toXY = segs => segs.flat().map(([x, y]) => ({x, y}));

const scopePlugin = {
  id: 'scope',
  beforeDraw(chart) {
    const {ctx, chartArea: a} = chart;
    ctx.save();
    ctx.fillStyle = '#000';
    ctx.fillRect(0, 0, chart.width, chart.height);
    ctx.fillStyle = '#121212';
    ctx.fillRect(a.left, a.top, a.right - a.left, a.bottom - a.top);
    ctx.restore();
  },
  beforeDatasetsDraw(chart) {
    const {ctx, chartArea: a, scales: {x, y}} = chart;
    ctx.save();
    xTickValues.forEach(v => {
      const px = Math.round(x.getPixelForValue(v)) + 0.5;
      if (px <= a.left + 1) return;
      if (v === centerTime) { ctx.setLineDash([]); ctx.strokeStyle = '#353535'; ctx.lineWidth = 2; }
      else { ctx.setLineDash([3, 3]); ctx.strokeStyle = '#444'; ctx.lineWidth = 1; }
      ctx.beginPath(); ctx.moveTo(px, a.top); ctx.lineTo(px, a.bottom); ctx.stroke();
    });
    yTickValues.forEach(v => {
      const py = Math.round(y.getPixelForValue(v)) + 0.5;
      if (py <= a.top + 1 || py >= a.bottom - 1) return;
      if (v === centerLevel) { ctx.setLineDash([]); ctx.strokeStyle = '#353535'; ctx.lineWidth = 2; }
      else { ctx.setLineDash([3, 3]); ctx.strokeStyle = '#444'; ctx.lineWidth = 1; }
      ctx.beginPath(); ctx.moveTo(a.left, py); ctx.lineTo(a.right, py); ctx.stroke();
    });
    ctx.setLineDash([]);
    ctx.lineWidth = 1;
    ctx.strokeStyle = '#555';
    ctx.beginPath();
    ctx.moveTo(a.right, Math.round(a.top) + 0.5);
    ctx.lineTo(Math.round(a.left) + 0.5, Math.round(a.top) + 0.5);
    ctx.lineTo(Math.round(a.left) + 0.5, Math.round(a.bottom) - 0.5);
    ctx.lineTo(a.right, Math.round(a.bottom) - 0.5);
    ctx.stroke();
    ctx.restore();
  },
  afterDatasetsDraw(chart) {
    const {ctx, chartArea: a, scales: {x, y}} = chart;
    ctx.save();
    ctx.font = '31px ' + FONT;
    ctx.textAlign = 'center';
    ctx.textBaseline = 'alphabetic';
    noteTexts.forEach((t, i) => {
      ctx.fillStyle = noteColors[i];
      ctx.fillText(t, x.getPixelForValue(noteTimes[i]), y.getPixelForValue(noteValues[i]));
    });
    // channel ground marker
    const y0 = Math.round(y.getPixelForValue(0));
    const l = a.left;
    ctx.fillStyle = '#ff1aff';
    ctx.beginPath();
    ctx.moveTo(l, y0);
    ctx.lineTo(l + 5, y0 - 4.5);
    ctx.lineTo(l + 24, y0 - 4.5);
    ctx.lineTo(l + 24, y0 + 4.5);
    ctx.lineTo(l + 5, y0 + 4.5);
    ctx.closePath();
    ctx.fill();
    ctx.fillStyle = '#2a002a';
    ctx.font = 'bold 7px ' + FONT;
    ctx.textAlign = 'center';
    ctx.textBaseline = 'middle';
    ctx.fillText(markerText, l + 15, y0 + 0.5);
    ctx.restore();
  }
};

new Chart(document.getElementById('c'), {
  type: 'line',
  data: {
    datasets: [
      {label: 'Injector control signal', data: toXY([injPre, injTrigger, injSettle, injPeak, injHoldEarly, injHoldMid, injHoldLate, injRelease]), borderColor: '#d8d800'},
      {label: 'Voltage', data: toXY([voltPre, voltTrigger, voltHold, voltPeak, voltHoldEarly, voltHoldMid, voltHoldLate, voltRelease]), borderColor: '#1cc6d0'},
      {label: 'Current', data: toXY([currPre, currRamp, currPeak, currDecay, currHold, currLow, currRelease]), borderColor: '#cc10cc'}
    ]
  },
  options: {
    responsive: false,
    animation: false,
    devicePixelRatio: 1,
    events: [],
    parsing: false,
    normalized: true,
    datasets: {line: {borderWidth: 1.25, pointRadius: 0, tension: 0, fill: false}},
    layout: {padding: {top: 6, left: 0, right: 0, bottom: 0}},
    plugins: {legend: {display: false}, tooltip: {enabled: false}},
    scales: {
      x: {
        type: 'linear', min: -200, max: 1629, bounds: 'data',
        afterBuildTicks: s => { s.ticks = xTickValues.map(v => ({value: v})); },
        afterFit: s => { s.height = 15; },
        ticks: {autoSkip: false, maxRotation: 0, minRotation: 0, padding: 1, color: '#d0d0d0', font: {family: FONT, size: 7},
                callback: (v, i) => xTickLabels[i]},
        grid: {display: true, drawOnChartArea: false, drawTicks: true, tickLength: 3, tickColor: '#9a9a9a', color: '#9a9a9a'},
        border: {display: false}
      },
      y: {
        type: 'linear', min: -2, max: 14, bounds: 'data',
        afterBuildTicks: s => { s.ticks = yTickValues.map(v => ({value: v})); },
        afterFit: s => { s.width = 22; },
        ticks: {autoSkip: false, padding: 1, color: '#c4c400', font: {family: FONT, size: 7},
                callback: (v, i) => yTickLabels[i]},
        grid: {display: true, drawOnChartArea: false, drawTicks: true, tickLength: 3, tickColor: '#9a9a50', color: '#9a9a50'},
        border: {display: false}
      }
    }
  },
  plugins: [scopePlugin]
});
</script></body></html>
